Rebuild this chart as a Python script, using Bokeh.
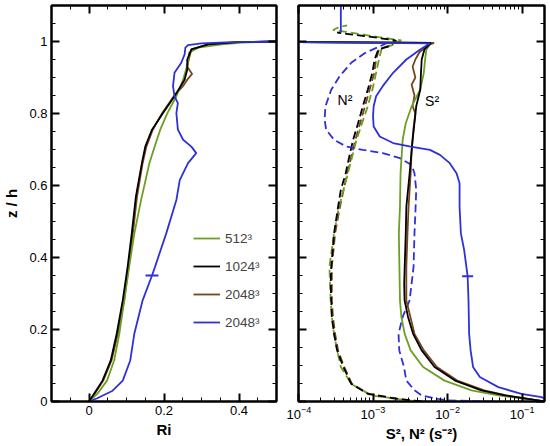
from bokeh.plotting import figure
from bokeh.layouts import row
from bokeh.models import LinearAxis, FixedTicker, Legend, LegendItem, Range1d, LogTickFormatter, CustomJSTickFormatter
from bokeh.embed import file_html
from bokeh.resources import INLINE
from bokeh.core.properties import value

FONT = "Liberation Sans"
GREEN = "#6c9f22"
BLACK = "#000000"
BROWN = "#7a441a"
BLUE = "#3030d8"

# ---------------- left panel: Ri vs z/h ----------------
z_ri_green = [0, 0.021, 0.058, 0.114, 0.189, 0.281, 0.374, 0.467, 0.56, 0.662, 0.708, 0.755, 0.801, 0.848, 0.894, 0.941, 0.969, 0.983, 0.992, 0.997, 1.0]
ri_green = [0, 0.022, 0.048, 0.067, 0.081, 0.094, 0.107, 0.121, 0.139, 0.161, 0.175, 0.190, 0.209, 0.233, 0.251, 0.264, 0.267, 0.291, 0.354, 0.408, 0.5]

z_ri_black = [0, 0.021, 0.058, 0.114, 0.189, 0.281, 0.374, 0.467, 0.569, 0.662, 0.708, 0.755, 0.801, 0.848, 0.894, 0.922, 0.95, 0.978, 0.992, 0.998, 1.0]
ri_black = [0, 0.013, 0.036, 0.058, 0.074, 0.090, 0.103, 0.114, 0.125, 0.141, 0.150, 0.168, 0.197, 0.228, 0.255, 0.262, 0.262, 0.273, 0.318, 0.398, 0.5]

z_ri_brown = [0, 0.021, 0.058, 0.114, 0.189, 0.281, 0.33, 0.374, 0.467, 0.569, 0.662, 0.708, 0.755, 0.801, 0.848, 0.875, 0.894, 0.91, 0.93, 0.95, 0.978, 0.992, 0.998, 1.0]
ri_brown = [0, 0.015, 0.038, 0.060, 0.077, 0.094, 0.100, 0.106, 0.117, 0.128, 0.143, 0.153, 0.170, 0.195, 0.226, 0.250, 0.262, 0.275, 0.262, 0.266, 0.273, 0.318, 0.398, 0.5]

z_ri_blue = [0, 0.009, 0.03, 0.058, 0.114, 0.189, 0.281, 0.35, 0.374, 0.467, 0.56, 0.615, 0.662, 0.69, 0.708, 0.727, 0.755, 0.801, 0.829, 0.848, 0.876, 0.913, 0.941, 0.964, 0.983, 0.99, 0.995, 0.998, 1.0]
ri_blue = [0, 0.022, 0.063, 0.090, 0.110, 0.121, 0.143, 0.168, 0.176, 0.206, 0.233, 0.242, 0.264, 0.286, 0.273, 0.251, 0.237, 0.233, 0.237, 0.228, 0.224, 0.228, 0.246, 0.255, 0.257, 0.264, 0.300, 0.380, 0.5]

ri_marker_blue = [0.168]
z_ri_marker_blue = [0.35]

# ---------------- right panel: S^2 (solid) and N^2 (dashed) ----------------
z_s2_green = [0, 0.007, 0.017, 0.031, 0.058, 0.096, 0.142, 0.188, 0.235, 0.281, 0.374, 0.467, 0.541, 0.634, 0.727, 0.773, 0.82, 0.866, 0.913, 0.95, 0.978, 0.996, 1.0]
s2_green = [0.2, 0.11, 0.048, 0.021, 0.0091, 0.0047, 0.0032, 0.00266, 0.0024, 0.0023, 0.00226, 0.00222, 0.0023, 0.00234, 0.0025, 0.00275, 0.0033, 0.0043, 0.0048, 0.0050, 0.0052, 0.0060, 1e-5]

z_s2_black = [0, 0.007, 0.017, 0.031, 0.058, 0.096, 0.142, 0.188, 0.235, 0.281, 0.328, 0.374, 0.467, 0.541, 0.634, 0.727, 0.82, 0.866, 0.913, 0.95, 0.978, 0.996, 1.0]
s2_black = [0.2, 0.12, 0.059, 0.0285, 0.0126, 0.0067, 0.0045, 0.00345, 0.00295, 0.00265, 0.00262, 0.00266, 0.00275, 0.0028, 0.0031, 0.0034, 0.0038, 0.0043, 0.0044, 0.0045, 0.0049, 0.0060, 1e-5]

z_s2_brown = [0, 0.007, 0.017, 0.031, 0.058, 0.096, 0.142, 0.188, 0.281, 0.374, 0.467, 0.541, 0.634, 0.70, 0.76, 0.80, 0.82, 0.85, 0.88, 0.90, 0.93, 0.95, 0.97, 0.99, 0.996, 1.0]
s2_brown = [0.2, 0.12, 0.062, 0.031, 0.0135, 0.0072, 0.0048, 0.0036, 0.0028, 0.0028, 0.0029, 0.0030, 0.0032, 0.0033, 0.0035, 0.0037, 0.0034, 0.0036, 0.0033, 0.0037, 0.0034, 0.0037, 0.0042, 0.0055, 0.0066, 1e-5]

z_s2_blue = [0, 0.012, 0.021, 0.04, 0.068, 0.096, 0.142, 0.188, 0.281, 0.348, 0.421, 0.467, 0.541, 0.606, 0.634, 0.662, 0.685, 0.699, 0.708, 0.718, 0.736, 0.764, 0.792, 0.82, 0.848, 0.876, 0.913, 0.95, 0.978, 0.995, 1.0]
s2_blue = [0.25, 0.182, 0.098, 0.048, 0.0271, 0.022, 0.0204, 0.0195, 0.0191, 0.0186, 0.0167, 0.0151, 0.0145, 0.0145, 0.0132, 0.0107, 0.0079, 0.0058, 0.0032, 0.00186, 0.00123, 0.00102, 0.001, 0.00102, 0.0011, 0.00135, 0.00186, 0.0028, 0.0043, 0.0058, 1e-5]

z_top_blue = [1.025, 1.1]
s2_top_blue = [3.7e-4, 3.7e-4]

s2_marker_blue = [0.0186]
z_s2_marker_blue = [0.348]

z_n2_green = [0, 0.004, 0.017, 0.049, 0.096, 0.142, 0.188, 0.235, 0.281, 0.374, 0.467, 0.541, 0.634, 0.727, 0.82, 0.866, 0.913, 0.95, 0.978, 0.99, 1.003, 1.012, 1.025, 1.032, 1.04, 1.045]
n2_green = [0.004, 0.0027, 0.00095, 0.00051, 0.00037, 0.00033, 0.0003, 0.00028, 0.00027, 0.00026, 0.0003, 0.00035, 0.00046, 0.0006, 0.00085, 0.00098, 0.0011, 0.0012, 0.0013, 0.0018, 0.0024, 0.0012, 0.0005, 0.00029, 0.00035, 0.00045]

z_n2_black = [0, 0.007, 0.021, 0.049, 0.096, 0.142, 0.188, 0.235, 0.281, 0.328, 0.374, 0.467, 0.541, 0.588, 0.634, 0.68, 0.727, 0.773, 0.82, 0.866, 0.913, 0.95, 0.978, 0.987, 1.003, 1.012, 1.02, 1.025]
n2_black = [0.0045, 0.0022, 0.00086, 0.00051, 0.0004, 0.00033, 0.0003, 0.00028, 0.000275, 0.00027, 0.000275, 0.0003, 0.00034, 0.00037, 0.00043, 0.00048, 0.00054, 0.00063, 0.00073, 0.00085, 0.00098, 0.00105, 0.00118, 0.00166, 0.0020, 0.0010, 0.0005, 0.00033]

z_n2_brown = [0, 0.007, 0.021, 0.049, 0.096, 0.142, 0.188, 0.235, 0.281, 0.374, 0.467, 0.541, 0.634, 0.727, 0.82, 0.866, 0.913, 0.95, 0.978, 0.99, 1.003]
n2_brown = [0.0045, 0.0022, 0.00088, 0.00052, 0.00041, 0.00034, 0.00031, 0.00029, 0.00028, 0.00028, 0.00031, 0.00036, 0.00045, 0.00058, 0.00078, 0.0009, 0.00104, 0.0011, 0.0012, 0.0017, 0.0021]

z_n2_blue = [0, 0.003, 0.007, 0.017, 0.031, 0.058, 0.096, 0.142, 0.188, 0.235, 0.281, 0.374, 0.467, 0.523, 0.588, 0.634, 0.657, 0.676, 0.69, 0.699, 0.708, 0.727, 0.755, 0.783, 0.82, 0.866, 0.903, 0.941, 0.968, 0.997]
n2_blue = [0.04, 0.0102, 0.0074, 0.0045, 0.0036, 0.0028, 0.0026, 0.00225, 0.0022, 0.0025, 0.0031, 0.0035, 0.0036, 0.0037, 0.0038, 0.0036, 0.0033, 0.0023, 0.00135, 0.00073, 0.00044, 0.0003, 0.000235, 0.000224, 0.00023, 0.000275, 0.000355, 0.00051, 0.00078, 0.0016]

label_x = [4.2e-4, 6.2e-3]
label_z = [0.838, 0.836]
label_text = ["N²", "S²"]

legend_labels = ["512³", "1024³", "2048³", "2048³"]

ri_major = [0, 0.2, 0.4]
ri_minor = [-0.1, -0.05, 0.05, 0.1, 0.15, 0.25, 0.3, 0.35, 0.45, 0.5]
z_major = [0, 0.2, 0.4, 0.6, 0.8, 1.0]
z_minor = [0.05, 0.1, 0.15, 0.25, 0.3, 0.35, 0.45, 0.5, 0.55, 0.65, 0.7, 0.75, 0.85, 0.9, 0.95, 1.05]
log_major = [1e-4, 1e-3, 1e-2, 1e-1]
log_minor = [k * 10.0 ** e for e in (-4, -3, -2, -1) for k in range(2, 10) if k * 10.0 ** e <= 0.2]


def style_axis(ax, labels=True):
    ax.major_tick_in = 8
    ax.major_tick_out = 0
    ax.minor_tick_in = 4
    ax.minor_tick_out = 0
    ax.major_tick_line_width = 2
    ax.minor_tick_line_width = 1
    ax.major_tick_line_color = "black"
    ax.minor_tick_line_color = "black"
    ax.axis_line_width = 2
    ax.axis_line_color = "black"
    ax.major_label_text_font = FONT
    ax.major_label_text_color = "black"
    ax.major_label_text_font_size = "13px"
    if labels:
        ax.major_label_standoff = 4
    else:
        ax.formatter = CustomJSTickFormatter(code="return ''")
        ax.major_label_standoff = 0
    ax.axis_label_text_font = FONT
    ax.axis_label_text_font_style = "bold"
    ax.axis_label_text_font_size = "15px"
    ax.axis_label_text_color = "black"
    ax.axis_label_standoff = 3


# ---------------- figure 1 ----------------
p1 = figure(frame_width=225, frame_height=396, x_range=Range1d(-0.1, 0.5), y_range=Range1d(0, 1.1),
            output_backend="svg", toolbar_location=None,
            min_border_left=50, min_border_right=10, min_border_top=5, min_border_bottom=0)
p1.grid.visible = False
p1.outline_line_color = "black"
p1.outline_line_width = 2
p1.xaxis.ticker = FixedTicker(ticks=ri_major, minor_ticks=ri_minor)
p1.yaxis.ticker = FixedTicker(ticks=z_major, minor_ticks=z_minor)
p1.xaxis.axis_label = "Ri"
p1.yaxis.axis_label = "z / h"
style_axis(p1.xaxis[0])
style_axis(p1.yaxis[0])
p1.yaxis.axis_label_standoff = 6
ax_r = LinearAxis(ticker=FixedTicker(ticks=z_major, minor_ticks=z_minor))
style_axis(ax_r, labels=False)
p1.add_layout(ax_r, "right")
ax_t = LinearAxis(ticker=FixedTicker(ticks=ri_major, minor_ticks=ri_minor))
style_axis(ax_t, labels=False)
p1.add_layout(ax_t, "above")

LW = 1.8
r_br = p1.line(ri_brown, z_ri_brown, color=BROWN, line_width=LW)
r_gr = p1.line(ri_green, z_ri_green, color=GREEN, line_width=LW)
r_bk = p1.line(ri_black, z_ri_black, color=BLACK, line_width=LW)
r_bl = p1.line(ri_blue, z_ri_blue, color=BLUE, line_width=LW)
p1.scatter(ri_marker_blue, z_ri_marker_blue, marker="dash", size=13, line_color=BLUE, line_width=2)

legend = Legend(items=[LegendItem(label=legend_labels[0], renderers=[r_gr]),
                       LegendItem(label=legend_labels[1], renderers=[r_bk]),
                       LegendItem(label=legend_labels[2], renderers=[r_br]),
                       LegendItem(label=legend_labels[3], renderers=[r_bl])],
                location=(142, 69), padding=0, margin=0, spacing=8,
                glyph_width=27, glyph_height=20, label_height=20, label_standoff=5,
                border_line_color=None, background_fill_alpha=0,
                label_text_font=FONT, label_text_font_size="13.5px")
p1.add_layout(legend)

# ---------------- figure 2 ----------------
p2 = figure(frame_width=246, frame_height=396, x_axis_type="log", x_range=Range1d(1e-4, 0.2), y_range=Range1d(0, 1.1),
            output_backend="svg", toolbar_location=None,
            min_border_left=12, min_border_right=6, min_border_top=5, min_border_bottom=0)
p2.grid.visible = False
p2.outline_line_color = "black"
p2.outline_line_width = 2
p2.xaxis.ticker = FixedTicker(ticks=log_major, minor_ticks=log_minor)
p2.xaxis.formatter = LogTickFormatter()
p2.yaxis.ticker = FixedTicker(ticks=z_major, minor_ticks=z_minor)
p2.xaxis.axis_label = "S², N² (s⁻²)"
style_axis(p2.xaxis[0])
style_axis(p2.yaxis[0], labels=False)
ax_r2 = LinearAxis(ticker=FixedTicker(ticks=z_major, minor_ticks=z_minor))
style_axis(ax_r2, labels=False)
p2.add_layout(ax_r2, "right")
ax_t2 = LinearAxis(ticker=FixedTicker(ticks=log_major, minor_ticks=log_minor))
style_axis(ax_t2, labels=False)
p2.add_layout(ax_t2, "above")

DASH = "8 4"
p2.line(n2_brown, z_n2_brown, color=BROWN, line_width=LW, line_dash=DASH)
p2.line(n2_green, z_n2_green, color=GREEN, line_width=LW, line_dash=DASH)
p2.line(n2_black, z_n2_black, color=BLACK, line_width=LW, line_dash=DASH)
p2.line(n2_blue, z_n2_blue, color=BLUE, line_width=LW, line_dash=DASH)
p2.line(s2_brown, z_s2_brown, color=BROWN, line_width=LW)
p2.line(s2_green, z_s2_green, color=GREEN, line_width=LW)
p2.line(s2_black, z_s2_black, color=BLACK, line_width=LW)
p2.line(s2_blue, z_s2_blue, color=BLUE, line_width=LW)
p2.line(s2_top_blue, z_top_blue, color=BLUE, line_width=LW)
p2.scatter(s2_marker_blue, z_s2_marker_blue, marker="dash", size=11, line_color=BLUE, line_width=2)
p2.text(label_x, label_z, text=label_text, text_align="center", text_baseline="middle",
        text_font=value(FONT), text_font_size="14px", text_color="black")

layout = row(p1, p2)
open("out.html", "w").write(file_html(layout, INLINE))
